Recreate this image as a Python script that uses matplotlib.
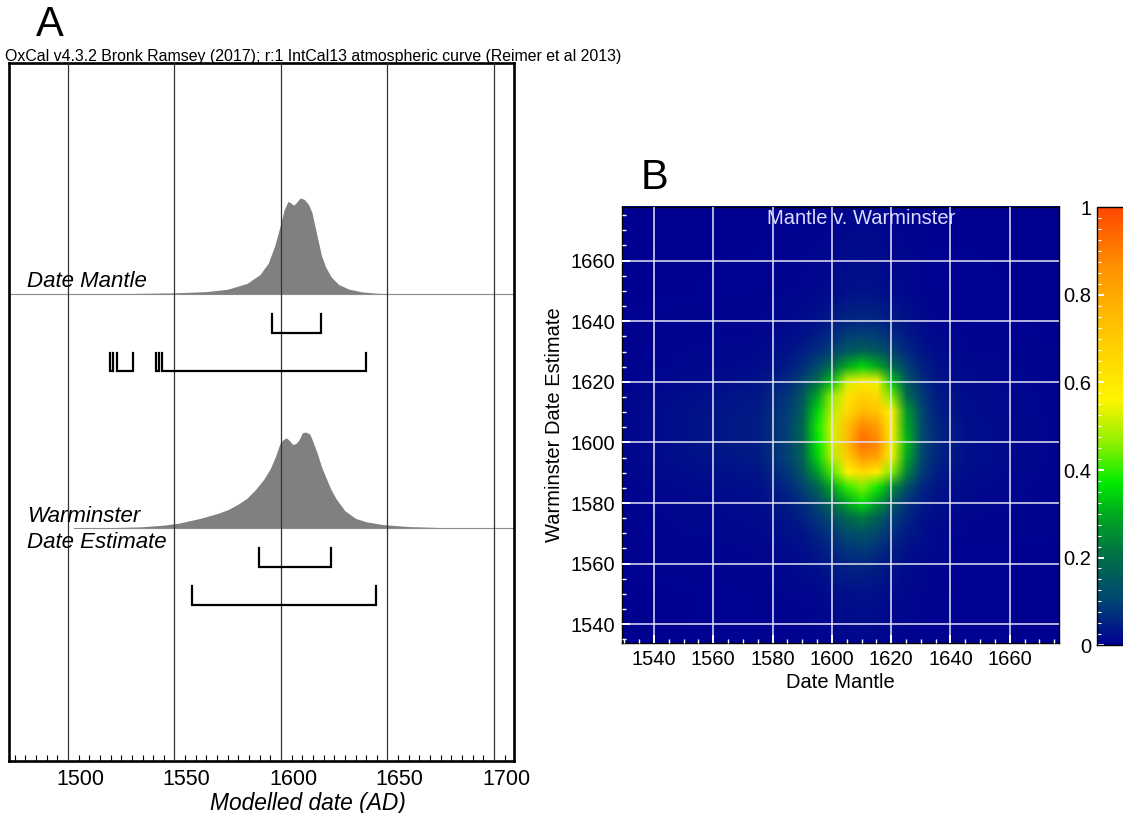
import numpy as np
import matplotlib
matplotlib.use("Agg")
import matplotlib.pyplot as plt
from matplotlib.colors import LinearSegmentedColormap
from matplotlib.ticker import MultipleLocator
from matplotlib.image import NonUniformImage
import matplotlib.transforms as mtransforms

plt.rcParams['font.family'] = ['Liberation Sans', 'DejaVu Sans']

# ---- panel A: modelled date distributions ----
mantle_years = [1473, 1500, 1530, 1550, 1565, 1575, 1584, 1590, 1594, 1597, 1599.5, 1601.5,
                1603.3, 1604.5, 1606, 1607.5, 1609, 1611, 1613, 1614.5, 1616, 1617.5, 1619,
                1621, 1623.5, 1627, 1632, 1638, 1645, 1655, 1710]
mantle_dens = [0, 0.002, 0.006, 0.012, 0.025, 0.05, 0.11, 0.2, 0.32, 0.5, 0.7, 0.88,
               0.965, 0.95, 0.925, 0.96, 1.0, 0.985, 0.93, 0.85, 0.7, 0.55, 0.4,
               0.28, 0.18, 0.1, 0.05, 0.022, 0.008, 0.002, 0]

warm_years = [1503, 1520, 1534, 1545, 1552, 1562, 1570, 1575, 1580, 1584, 1588, 1592, 1595,
              1597.5, 1599.5, 1601, 1602.5, 1604, 1605.5, 1607, 1608.5, 1610, 1611.5, 1613.5,
              1615, 1617, 1619, 1621, 1623.5, 1626, 1630, 1635, 1640, 1648, 1660, 1675, 1695, 1710]
warm_dens = [0, 0.004, 0.012, 0.03, 0.05, 0.1, 0.15, 0.19, 0.25, 0.31, 0.4, 0.51, 0.62,
             0.75, 0.88, 0.92, 0.94, 0.91, 0.87, 0.88, 0.92, 0.99, 1.0, 0.98,
             0.9, 0.78, 0.64, 0.53, 0.4, 0.3, 0.18, 0.1, 0.065, 0.035, 0.015, 0.005, 0.001, 0]

mantle_68 = [(1596.0, 1618.6)]
mantle_95 = [(1519.7, 1521.3), (1522.9, 1530.4), (1541.2, 1542.7), (1544.3, 1639.8)]
warm_68 = [(1589.8, 1623.5)]
warm_95 = [(1558.4, 1644.5)]

a_ticks = [1500, 1550, 1600, 1650, 1700]

# ---- panel B: joint density Mantle (x) v. Warminster (y) ----
hm_x = [1528, 1575, 1585, 1590, 1595, 1600, 1605, 1610, 1615, 1620, 1625, 1630, 1635, 1645, 1678]
hm_y = [1532, 1550, 1560, 1565, 1570, 1575, 1580, 1585, 1590, 1595, 1600, 1605, 1610,
        1615, 1620, 1625, 1630, 1635, 1640, 1650, 1679]
hm_z = [
    [0.002, 0.004, 0.005, 0.006, 0.007, 0.008, 0.009, 0.01, 0.009, 0.008, 0.007, 0.006, 0.005, 0.004, 0.002],
    [0.003, 0.006, 0.008, 0.01, 0.014, 0.02, 0.026, 0.03, 0.026, 0.018, 0.012, 0.009, 0.007, 0.005, 0.003],
    [0.004, 0.008, 0.015, 0.02, 0.03, 0.045, 0.055, 0.06, 0.05, 0.035, 0.02, 0.015, 0.01, 0.006, 0.003],
    [0.005, 0.01, 0.02, 0.025, 0.04, 0.06, 0.08, 0.09, 0.075, 0.05, 0.03, 0.02, 0.012, 0.007, 0.003],
    [0.005, 0.012, 0.025, 0.035, 0.055, 0.085, 0.12, 0.14, 0.11, 0.07, 0.04, 0.025, 0.015, 0.008, 0.004],
    [0.006, 0.016, 0.035, 0.05, 0.08, 0.13, 0.19, 0.22, 0.17, 0.1, 0.055, 0.03, 0.02, 0.01, 0.004],
    [0.006, 0.02, 0.045, 0.07, 0.12, 0.2, 0.3, 0.36, 0.28, 0.16, 0.08, 0.04, 0.025, 0.012, 0.005],
    [0.007, 0.027, 0.06, 0.1, 0.18, 0.3, 0.4, 0.45, 0.38, 0.25, 0.13, 0.06, 0.035, 0.016, 0.005],
    [0.008, 0.035, 0.08, 0.15, 0.28, 0.42, 0.57, 0.65, 0.6, 0.45, 0.24, 0.09, 0.045, 0.02, 0.006],
    [0.008, 0.04, 0.1, 0.18, 0.35, 0.5, 0.7, 0.85, 0.82, 0.55, 0.3, 0.11, 0.055, 0.024, 0.006],
    [0.009, 0.045, 0.1, 0.18, 0.37, 0.52, 0.75, 0.93, 0.88, 0.57, 0.32, 0.12, 0.06, 0.026, 0.007],
    [0.009, 0.045, 0.1, 0.19, 0.38, 0.53, 0.74, 0.88, 0.84, 0.58, 0.3, 0.12, 0.06, 0.026, 0.007],
    [0.008, 0.04, 0.09, 0.17, 0.35, 0.5, 0.65, 0.75, 0.72, 0.56, 0.28, 0.11, 0.05, 0.022, 0.006],
    [0.008, 0.036, 0.08, 0.15, 0.3, 0.47, 0.62, 0.68, 0.66, 0.45, 0.2, 0.09, 0.045, 0.02, 0.005],
    [0.007, 0.028, 0.06, 0.11, 0.2, 0.33, 0.52, 0.6, 0.55, 0.33, 0.15, 0.07, 0.035, 0.016, 0.005],
    [0.006, 0.018, 0.04, 0.07, 0.12, 0.2, 0.3, 0.35, 0.3, 0.19, 0.1, 0.05, 0.03, 0.013, 0.004],
    [0.005, 0.014, 0.03, 0.045, 0.07, 0.1, 0.15, 0.17, 0.15, 0.1, 0.06, 0.035, 0.02, 0.01, 0.004],
    [0.004, 0.01, 0.02, 0.03, 0.045, 0.065, 0.09, 0.1, 0.09, 0.065, 0.04, 0.025, 0.015, 0.008, 0.003],
    [0.004, 0.008, 0.015, 0.02, 0.03, 0.04, 0.055, 0.06, 0.055, 0.04, 0.03, 0.018, 0.01, 0.006, 0.003],
    [0.003, 0.006, 0.008, 0.01, 0.014, 0.018, 0.024, 0.028, 0.024, 0.018, 0.013, 0.009, 0.006, 0.004, 0.002],
    [0.001, 0.002, 0.003, 0.004, 0.005, 0.006, 0.008, 0.009, 0.008, 0.006, 0.005, 0.004, 0.003, 0.002, 0.001],
]

b_ticks = [1540, 1560, 1580, 1600, 1620, 1640, 1660]
cb_ticks = [0, 0.2, 0.4, 0.6, 0.8, 1]

W, H = 1123, 813
fig = plt.figure(figsize=(W / 100, H / 100), dpi=100)


def box(l, t, r, b):
    return [l / W, 1 - b / H, (r - l) / W, (b - t) / H]


# panel A
axA = fig.add_axes(box(9, 62.6, 514, 761))
axA.set_xlim(1472.3, 1709.4)
axA.set_ylim(698.4, 0)   # pixel rows from the top of the box
for s in axA.spines.values():
    s.set_linewidth(1.9)
axA.set_yticks([])
axA.set_xticks(a_ticks)
axA.xaxis.set_minor_locator(MultipleLocator(5))
axA.tick_params(axis='x', which='major', direction='in', length=0, labelsize=15.5, pad=6)
axA.tick_params(axis='x', which='minor', direction='in', length=4, width=0.8)
off = mtransforms.ScaledTranslation(0.12, 0, fig.dpi_scale_trans)
for lab in axA.get_xticklabels():
    lab.set_transform(lab.get_transform() + off)

for yr in a_ticks:
    axA.axvline(yr, color='#333333', lw=0.9, zorder=3)

rows = [
    (231.4, mantle_years, mantle_dens, 1472.3, (251.4, 270.4), mantle_68, (290.4, 308.4), mantle_95),
    (465.4, warm_years, warm_dens, 1503.0, (485.4, 504.4), warm_68, (523.4, 542.4), warm_95),
]
for base, yrs, dens, line_start, r68, b68, r95, b95 in rows:
    yrs = np.array(yrs)
    top = base - 96 * np.array(dens)
    axA.fill_between(yrs, top, base, color='#808080', lw=0, zorder=2)
    axA.plot([line_start, 1709.4], [base, base], color='#8a8a8a', lw=0.8, zorder=2)
    for (yt, yb), ranges in ((r68, b68), (r95, b95)):
        for x0, x1 in ranges:
            axA.plot([x0, x0, x1, x1], [yt, yb, yb, yt], color='black', lw=1.6,
                     solid_joinstyle='miter', zorder=4)

axA.text(1480.8, 224.5, 'Date Mantle', fontsize=16, style='italic', va='baseline', ha='left', zorder=5)
axA.text(1480.8, 459.0, 'Warminster', fontsize=16, style='italic', va='baseline', ha='left', zorder=5)
axA.text(1480.8, 485.7, 'Date Estimate', fontsize=16, style='italic', va='baseline', ha='left', zorder=5)

fig.text(308 / W, 1 - 803 / H, 'Modelled date (AD)', fontsize=16.4, style='italic',
         ha='center', va='center')
fig.text(5 / W, 1 - 61 / H,
         'OxCal v4.3.2 Bronk Ramsey (2017); r:1 IntCal13 atmospheric curve (Reimer et al 2013)',
         fontsize=11.4, ha='left', va='baseline')
fig.text(50 / W, 1 - 25 / H, 'A', fontsize=30, ha='center', va='center',
         family=['Liberation Sans Narrow', 'Liberation Sans'])
fig.text(655 / W, 1 - 178 / H, 'B', fontsize=30, ha='center', va='center',
         family=['Liberation Sans Narrow', 'Liberation Sans'])

# panel B
oxcal = LinearSegmentedColormap.from_list('oxcal', [
    (0.0, (0.0, 0.0, 0.57)),
    (0.1, (0.0, 0.27, 0.45)),
    (0.2, (0.0, 0.43, 0.28)),
    (0.3, (0.0, 0.67, 0.12)),
    (0.37, (0.0, 0.92, 0.0)),
    (0.46, (0.55, 0.94, 0.0)),
    (0.56, (1.0, 0.96, 0.0)),
    (0.7, (1.0, 0.8, 0.0)),
    (0.85, (1.0, 0.6, 0.0)),
    (1.0, (1.0, 0.28, 0.0)),
])

axB = fig.add_axes(box(621.7, 206.7, 1059, 643.3))
im = NonUniformImage(axB, interpolation='bilinear', cmap=oxcal,
                     extent=(hm_x[0], hm_x[-1], hm_y[0], hm_y[-1]))
im.set_data(np.array(hm_x, float), np.array(hm_y, float), np.array(hm_z))
im.set_clim(0, 1)
axB.add_image(im)
axB.set_xlim(1529.1, 1676.6)
axB.set_ylim(1533.7, 1677.8)
axB.set_xticks(b_ticks)
axB.set_yticks(b_ticks)
axB.xaxis.set_minor_locator(MultipleLocator(5))
axB.yaxis.set_minor_locator(MultipleLocator(5))
axB.tick_params(which='both', direction='in', color='white', labelsize=14.5, pad=5)
axB.tick_params(which='major', length=6, width=1.4)
axB.tick_params(which='minor', length=3, width=1.0)
axB.grid(True, color='#e4e4f4', lw=1.1)
axB.set_axisbelow(False)
for s in axB.spines.values():
    s.set_linewidth(1.0)
axB.set_xlabel('Date Mantle', fontsize=14.5, labelpad=3)
axB.set_ylabel('Warminster Date Estimate', fontsize=14.5, labelpad=4)
fig.text(861 / W, 1 - 218 / H, 'Mantle v. Warminster', fontsize=14.5, color='#dcdcff',
         ha='center', va='center')

# colour bar (cut by the image edge as in the original)
axC = fig.add_axes(box(1097, 207.5, 1140, 645))
sm = plt.cm.ScalarMappable(cmap=oxcal, norm=plt.Normalize(0, 1))
cb = fig.colorbar(sm, cax=axC, ticks=cb_ticks)
cb.outline.set_linewidth(1.0)
cb.ax.yaxis.set_ticks_position('left')
cb.ax.yaxis.set_label_position('left')
cb.ax.set_yticklabels(['0', '0.2', '0.4', '0.6', '0.8', '1'])
cb.ax.yaxis.set_minor_locator(MultipleLocator(0.025))
cb.ax.tick_params(which='both', direction='in', color='white', labelsize=14.5, pad=4)
cb.ax.tick_params(which='major', length=5, width=1.4)
cb.ax.tick_params(which='minor', length=3, width=0.8)

fig.savefig('out.png', dpi=100)
